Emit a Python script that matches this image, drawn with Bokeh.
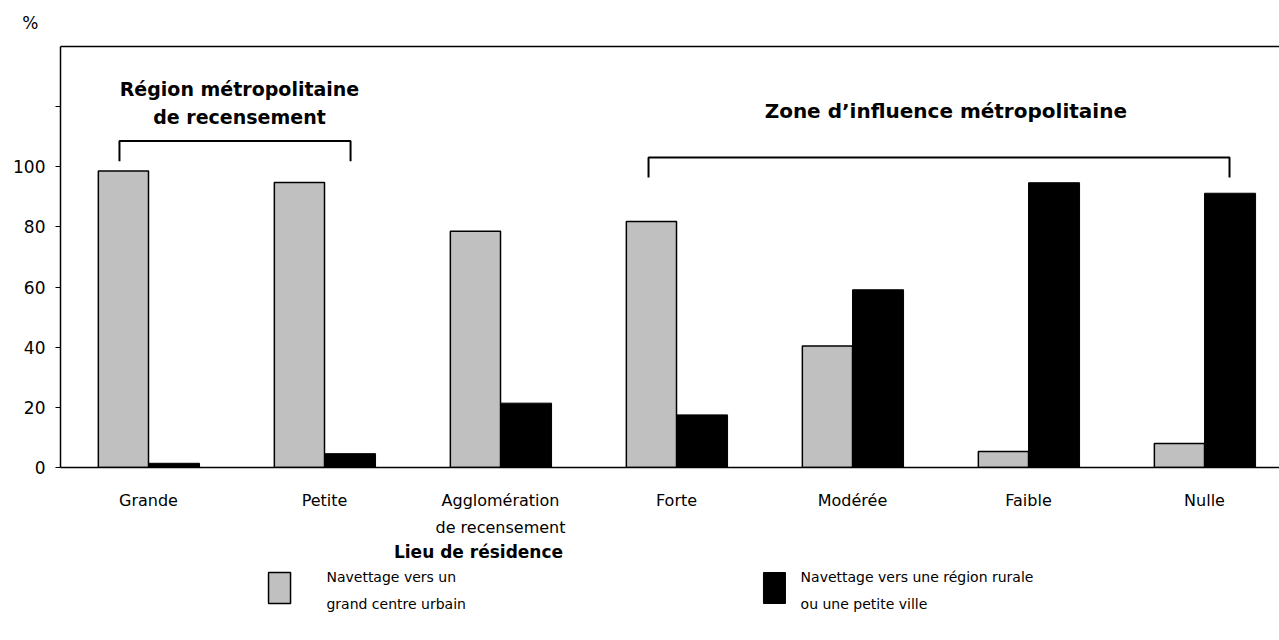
from bokeh.plotting import figure
from bokeh.models import (ColumnDataSource, Label, FixedTicker, LinearAxis, Range1d)
from bokeh.layouts import column
from bokeh.transform import dodge
from bokeh.embed import file_html
from bokeh.resources import INLINE

# ---- data ----
categories = ["Grande", "Petite", "Agglomération", "Forte", "Modérée", "Faible", "Nulle"]
categories_line2 = ["", "", "de recensement", "", "", "", ""]
grand_centre = [98.6, 94.8, 78.6, 81.8, 40.4, 5.3, 8.0]
rural_petite_ville = [1.4, 4.6, 21.4, 17.5, 59.1, 94.7, 91.2]
y_ticks = [0, 20, 40, 60, 80, 100, 120]
series_names = ["Navettage vers un\ngrand centre urbain",
                "Navettage vers une région rurale\nou une petite ville"]
group_titles = ["Région métropolitaine", "de recensement", "Zone d’influence métropolitaine"]
x_title = "Lieu de résidence"
y_unit = "%"

FONT = "DejaVu Sans"
GRAY = "#C0C0C0"
W = 1279


def base_fig(height, x_range, y_range, left=0, top=0, bottom=0, axes=True, yaxis=None):
    kw = {}
    if not axes:
        kw = dict(x_axis_location=None, y_axis_location=yaxis)
    f = figure(width=W, height=height, output_backend="svg", toolbar_location=None,
               x_range=x_range, y_range=y_range,
               min_border_left=left, min_border_right=0, min_border_top=top,
               min_border_bottom=bottom, **kw)
    f.outline_line_color = None
    f.background_fill_color = "white"
    f.border_fill_color = "white"
    f.xgrid.grid_line_color = None
    f.ygrid.grid_line_color = None
    return f


def lab(f, x, y, text, size, bold=False, align="center"):
    f.add_layout(Label(x=x, y=y, text=text, text_font=FONT, text_font_size=size,
                       text_font_style="bold" if bold else "normal",
                       text_align=align, text_baseline="middle", text_color="black"))


xr = Range1d(-0.5, 6.426)

# ---- top strip with unit (as the label of an invisible y axis) ----
strip = base_fig(44, xr, Range1d(0, 1), left=60, axes=False, yaxis="left")
sa = strip.yaxis[0]
sa.ticker = FixedTicker(ticks=[])
sa.axis_line_color = None
sa.major_tick_line_color = None
sa.minor_tick_line_color = None
sa.axis_label = y_unit
sa.axis_label_orientation = "horizontal"
sa.axis_label_text_font = FONT
sa.axis_label_text_font_style = "normal"
sa.axis_label_text_font_size = "17px"
sa.axis_label_text_color = "black"
sa.axis_label_standoff = 22

# ---- main chart ----
src = ColumnDataSource(dict(x=list(range(len(categories))),
                            g=grand_centre, b=rural_petite_ville))

p = base_fig(438, xr, Range1d(0, 140), left=60, top=2, bottom=15)

p.vbar(x=dodge("x", -0.1425, range=p.x_range), top="g", width=0.285, source=src,
       fill_color=GRAY, line_color="black", line_width=1.5)
p.vbar(x=dodge("x", 0.145, range=p.x_range), top="b", width=0.29, source=src,
       fill_color="black", line_color="black", line_width=1)

ya = p.yaxis[0]
ya.ticker = FixedTicker(ticks=y_ticks)
ya.major_label_overrides = {120: ""}
ya.minor_tick_line_color = None
ya.major_tick_in = 0
ya.major_tick_out = 5
ya.major_label_standoff = 10
ya.axis_line_color = "black"
ya.axis_line_width = 1.5
ya.major_label_text_font = FONT
ya.major_label_text_font_size = "17px"
ya.major_label_text_color = "black"

xa = p.xaxis[0]
xa.ticker = FixedTicker(ticks=[])
xa.major_tick_line_color = None
xa.minor_tick_line_color = None
xa.axis_line_color = "black"
xa.axis_line_width = 1.5

top_axis = LinearAxis(ticker=FixedTicker(ticks=[]), major_tick_line_color=None,
                      minor_tick_line_color=None, axis_line_color="black",
                      axis_line_width=1.5)
p.add_layout(top_axis, "above")

# group brackets
br_left_x = [-0.165, -0.165, 1.148, 1.148]
br_left_y = [101.8, 108.6, 108.6, 101.8]
br_right_x = [2.841, 2.841, 6.142, 6.142]
br_right_y = [96.4, 103.1, 103.1, 96.4]
p.line(br_left_x, br_left_y, line_color="black", line_width=2)
p.line(br_right_x, br_right_y, line_color="black", line_width=2)

lab(p, 0.517, 126.0, group_titles[0], "19px", bold=True)
lab(p, 0.517, 116.4, group_titles[1], "19px", bold=True)
lab(p, 4.53, 118.7, group_titles[2], "20px", bold=True)

# ---- bottom: category labels, axis title, legend ----
bot = base_fig(158, xr, Range1d(158, 0), left=60, axes=False)

for i, (c1, c2) in enumerate(zip(categories, categories_line2)):
    lab(bot, i, 18, c1, "16px")
    if c2:
        lab(bot, i, 45, c2, "16px")

lab(bot, 1.875, 69, x_title, "17px", bold=True)

bot.quad(left=[0.682], right=[0.807], top=[90], bottom=[121],
         fill_color=GRAY, line_color="black", line_width=1.5)
bot.quad(left=[3.494], right=[3.619], top=[90], bottom=[121],
         fill_color="black", line_color="black", line_width=1)
for xpos, name in zip([1.011, 3.705], series_names):
    l1, l2 = name.split("\n")
    lab(bot, xpos, 94, l1, "14px", align="left")
    lab(bot, xpos, 121, l2, "14px", align="left")

layout = column(strip, p, bot, spacing=0)
open("out.html", "w").write(file_html(layout, INLINE))
